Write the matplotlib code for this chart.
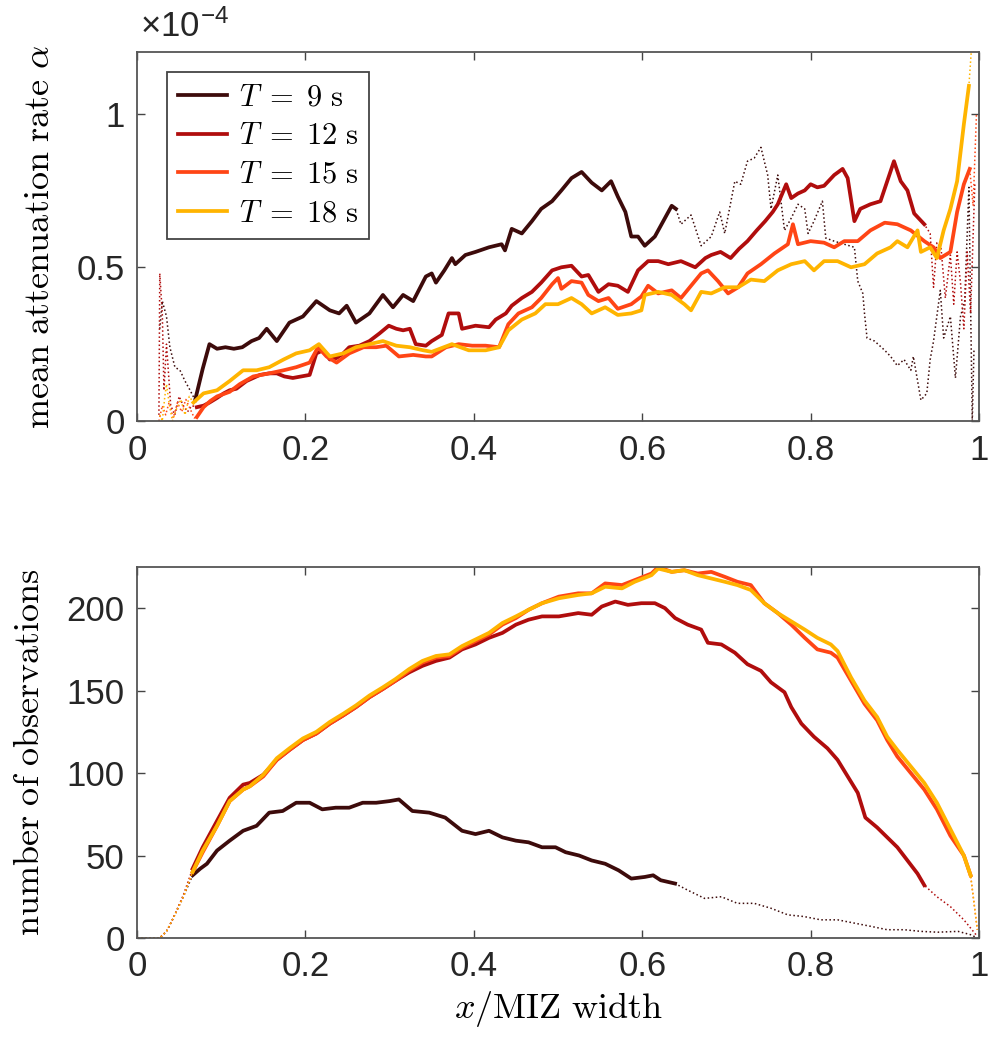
import numpy as np
import matplotlib
matplotlib.use("Agg")
import matplotlib.pyplot as plt

plt.rcParams['mathtext.fontset'] = 'cm'
plt.rcParams['font.family'] = ['Liberation Sans', 'DejaVu Sans']

periods = [9, 12, 15, 18]
colors = ['#3d0b0b', '#b00d0d', '#ff4515', '#ffb400']
xticks = [0, 0.2, 0.4, 0.6, 0.8, 1]
xtick_labels = ['0', '0.2', '0.4', '0.6', '0.8', '1']

# ---- mean attenuation rate (units of 1e-4) ----
x9_top = [0.027, 0.030, 0.035, 0.039, 0.045, 0.051, 0.057, 0.063, 0.069, 0.078,
          0.086, 0.095, 0.105, 0.115, 0.125, 0.136, 0.145, 0.154, 0.166, 0.181,
          0.197, 0.213, 0.229, 0.240, 0.249, 0.260, 0.276, 0.292, 0.304, 0.316,
          0.328, 0.343, 0.350, 0.355, 0.365, 0.374, 0.378, 0.390, 0.402, 0.418,
          0.433, 0.437, 0.445, 0.457, 0.469, 0.480, 0.493, 0.504, 0.516, 0.528,
          0.540, 0.552, 0.563, 0.571, 0.580, 0.587, 0.595, 0.603, 0.615, 0.627,
          0.635, 0.640, 0.646, 0.658, 0.670, 0.682, 0.692, 0.698, 0.710, 0.717,
          0.725, 0.733, 0.741, 0.749, 0.753, 0.761, 0.769, 0.777, 0.785, 0.793,
          0.797, 0.804, 0.814, 0.818, 0.828, 0.840, 0.852, 0.856, 0.862, 0.864,
          0.867, 0.876, 0.888, 0.895, 0.903, 0.911, 0.919, 0.922, 0.931, 0.938,
          0.942, 0.946, 0.954, 0.958, 0.966, 0.972, 0.978, 0.983, 0.988, 0.992,
          0.994]
a9 = [0.30, 0.39, 0.34, 0.24, 0.175, 0.165, 0.13, 0.10, 0.068, 0.17,
      0.25, 0.235, 0.24, 0.235, 0.24, 0.26, 0.27, 0.30, 0.26, 0.32,
      0.34, 0.39, 0.36, 0.35, 0.375, 0.32, 0.35, 0.41, 0.37, 0.41,
      0.39, 0.47, 0.48, 0.45, 0.49, 0.53, 0.51, 0.54, 0.55, 0.565,
      0.575, 0.555, 0.625, 0.61, 0.65, 0.69, 0.715, 0.75, 0.79, 0.81,
      0.775, 0.75, 0.78, 0.73, 0.68, 0.60, 0.60, 0.57, 0.60, 0.66,
      0.70, 0.69, 0.64, 0.67, 0.57, 0.60, 0.68, 0.61, 0.78, 0.77,
      0.845, 0.855, 0.89, 0.80, 0.69, 0.80, 0.62, 0.66, 0.705, 0.69,
      0.61, 0.65, 0.715, 0.595, 0.585, 0.575, 0.565, 0.455, 0.415, 0.35,
      0.27, 0.26, 0.23, 0.21, 0.18, 0.20, 0.165, 0.21, 0.068, 0.09,
      0.20, 0.26, 0.425, 0.27, 0.34, 0.14, 0.34, 0.39, 0.76, 0.0,
      0.23]

x12_top = [0.026, 0.027, 0.030, 0.032, 0.035, 0.040, 0.045, 0.050, 0.055, 0.060,
           0.065, 0.071, 0.079, 0.086, 0.095, 0.103, 0.110, 0.118, 0.130, 0.138,
           0.146, 0.157, 0.166, 0.175, 0.185, 0.195, 0.205, 0.213, 0.221, 0.229,
           0.237, 0.245, 0.252, 0.264, 0.276, 0.288, 0.299, 0.308, 0.316, 0.324,
           0.331, 0.343, 0.350, 0.362, 0.370, 0.382, 0.386, 0.402, 0.418, 0.426,
           0.438, 0.445, 0.457, 0.469, 0.480, 0.493, 0.504, 0.516, 0.528, 0.536,
           0.548, 0.560, 0.571, 0.583, 0.595, 0.607, 0.619, 0.631, 0.646, 0.663,
           0.675, 0.682, 0.693, 0.705, 0.715, 0.725, 0.736, 0.746, 0.755, 0.761,
           0.771, 0.777, 0.785, 0.793, 0.800, 0.808, 0.816, 0.828, 0.838, 0.844,
           0.852, 0.859, 0.871, 0.883, 0.891, 0.899, 0.907, 0.915, 0.923, 0.935,
           0.942, 0.946, 0.950, 0.955, 0.960, 0.966, 0.970, 0.974, 0.978, 0.982,
           0.986, 0.990, 0.995]
a12 = [0.02, 0.48, 0.35, 0.10, 0.25, 0.05, 0.02, 0.08, 0.05, 0.03,
       0.05, 0.045, 0.05, 0.06, 0.075, 0.09, 0.10, 0.105, 0.13, 0.14,
       0.15, 0.155, 0.155, 0.145, 0.14, 0.145, 0.15, 0.22, 0.23, 0.20,
       0.205, 0.22, 0.24, 0.245, 0.26, 0.285, 0.31, 0.30, 0.295, 0.30,
       0.25, 0.245, 0.26, 0.28, 0.35, 0.35, 0.30, 0.31, 0.305, 0.33,
       0.35, 0.375, 0.40, 0.42, 0.45, 0.49, 0.50, 0.505, 0.47, 0.475,
       0.42, 0.445, 0.44, 0.42, 0.49, 0.52, 0.52, 0.51, 0.52, 0.50,
       0.53, 0.54, 0.55, 0.53, 0.56, 0.585, 0.62, 0.65, 0.68, 0.705,
       0.77, 0.725, 0.74, 0.75, 0.77, 0.76, 0.765, 0.80, 0.82, 0.79,
       0.65, 0.69, 0.705, 0.715, 0.78, 0.845, 0.78, 0.75, 0.675, 0.64,
       0.61, 0.435, 0.58, 0.56, 0.40, 0.54, 0.38, 0.55, 0.45, 0.30,
       0.55, 0.35, 0.77]

x15_top = [0.026, 0.030, 0.034, 0.038, 0.043, 0.048, 0.053, 0.058, 0.063, 0.068,
           0.071, 0.079, 0.087, 0.095, 0.110, 0.122, 0.138, 0.157, 0.174, 0.189,
           0.205, 0.215, 0.225, 0.237, 0.252, 0.269, 0.284, 0.296, 0.311, 0.328,
           0.343, 0.350, 0.367, 0.382, 0.398, 0.414, 0.430, 0.441, 0.453, 0.469,
           0.480, 0.493, 0.500, 0.504, 0.516, 0.528, 0.536, 0.548, 0.560, 0.571,
           0.587, 0.599, 0.607, 0.619, 0.635, 0.646, 0.658, 0.670, 0.678, 0.690,
           0.702, 0.714, 0.725, 0.741, 0.757, 0.773, 0.779, 0.785, 0.800, 0.816,
           0.828, 0.840, 0.856, 0.871, 0.888, 0.903, 0.919, 0.935, 0.946, 0.954,
           0.966, 0.974, 0.982, 0.989, 0.993, 0.997]
a15 = [0.0, 0.05, 0.02, 0.06, 0.01, 0.06, 0.03, 0.07, 0.04, 0.01,
       0.013, 0.045, 0.065, 0.08, 0.095, 0.12, 0.145, 0.155, 0.165, 0.175,
       0.19, 0.24, 0.21, 0.19, 0.22, 0.24, 0.24, 0.245, 0.21, 0.215,
       0.21, 0.21, 0.24, 0.25, 0.245, 0.245, 0.24, 0.315, 0.35, 0.37,
       0.40, 0.445, 0.465, 0.43, 0.455, 0.45, 0.41, 0.39, 0.40, 0.365,
       0.38, 0.405, 0.44, 0.415, 0.425, 0.40, 0.44, 0.48, 0.49, 0.455,
       0.415, 0.435, 0.48, 0.51, 0.545, 0.575, 0.64, 0.575, 0.585, 0.58,
       0.565, 0.585, 0.585, 0.62, 0.645, 0.64, 0.62, 0.585, 0.565, 0.53,
       0.55, 0.68, 0.77, 0.82, 0.70, 1.0]

x18_top = [0.027, 0.030, 0.033, 0.035, 0.038, 0.042, 0.047, 0.052, 0.057, 0.062,
           0.067, 0.079, 0.095, 0.110, 0.126, 0.142, 0.157, 0.174, 0.189, 0.205,
           0.216, 0.229, 0.245, 0.260, 0.276, 0.292, 0.308, 0.324, 0.340, 0.350,
           0.374, 0.394, 0.414, 0.430, 0.441, 0.457, 0.473, 0.485, 0.500, 0.516,
           0.528, 0.540, 0.556, 0.571, 0.587, 0.599, 0.603, 0.619, 0.635, 0.650,
           0.658, 0.670, 0.682, 0.698, 0.714, 0.729, 0.745, 0.761, 0.777, 0.793,
           0.804, 0.816, 0.832, 0.848, 0.864, 0.879, 0.895, 0.903, 0.915, 0.927,
           0.931, 0.942, 0.950, 0.958, 0.966, 0.974, 0.982, 0.988, 0.992]
a18 = [0.02, 0.0, 0.08, 0.12, 0.06, 0.0, 0.04, 0.07, 0.02, 0.08,
       0.06, 0.09, 0.10, 0.13, 0.165, 0.165, 0.175, 0.20, 0.22, 0.23,
       0.25, 0.21, 0.22, 0.24, 0.25, 0.26, 0.245, 0.24, 0.23, 0.225,
       0.25, 0.23, 0.23, 0.24, 0.295, 0.33, 0.35, 0.38, 0.38, 0.40,
       0.38, 0.35, 0.37, 0.345, 0.35, 0.36, 0.41, 0.42, 0.41, 0.38,
       0.36, 0.42, 0.415, 0.435, 0.435, 0.46, 0.455, 0.49, 0.51, 0.52,
       0.49, 0.52, 0.52, 0.50, 0.51, 0.545, 0.565, 0.585, 0.565, 0.62,
       0.55, 0.565, 0.53, 0.62, 0.69, 0.78, 0.965, 1.09, 1.25]

# ---- number of observations ----
x9_bot = [0.0, 0.027, 0.035, 0.043, 0.055, 0.066, 0.075, 0.083, 0.095, 0.110,
          0.126, 0.142, 0.157, 0.173, 0.189, 0.205, 0.220, 0.236, 0.252, 0.268,
          0.284, 0.300, 0.311, 0.327, 0.347, 0.366, 0.386, 0.402, 0.418, 0.434,
          0.450, 0.465, 0.481, 0.497, 0.509, 0.525, 0.540, 0.556, 0.572, 0.587,
          0.603, 0.613, 0.622, 0.639, 0.654, 0.674, 0.694, 0.713, 0.733, 0.753,
          0.773, 0.792, 0.812, 0.832, 0.852, 0.872, 0.891, 0.911, 0.931, 0.951,
          0.975, 0.990, 0.998]
n9 = [0, 0, 4, 12, 25, 38, 42, 45, 53, 59,
      65, 68, 76, 77, 82, 82, 78, 79, 79, 82,
      82, 83, 84, 77, 76, 73, 65, 63, 65, 61,
      59, 58, 55, 55, 52, 50, 47, 45, 41, 36,
      37, 38, 35, 33, 29, 24, 25, 21, 21, 18,
      14, 13, 11, 11, 9, 7, 5, 5, 4, 3.5,
      4, 2, 0]

x12_bot = [0.0, 0.027, 0.035, 0.043, 0.055, 0.066, 0.078, 0.095, 0.110, 0.126,
           0.134, 0.150, 0.166, 0.181, 0.197, 0.213, 0.229, 0.245, 0.260, 0.276,
           0.292, 0.307, 0.323, 0.339, 0.355, 0.371, 0.386, 0.402, 0.418, 0.434,
           0.450, 0.465, 0.481, 0.501, 0.524, 0.540, 0.552, 0.568, 0.583, 0.599,
           0.615, 0.627, 0.639, 0.654, 0.670, 0.678, 0.694, 0.710, 0.725, 0.741,
           0.753, 0.769, 0.777, 0.789, 0.804, 0.820, 0.832, 0.844, 0.856, 0.865,
           0.879, 0.891, 0.903, 0.915, 0.927, 0.935, 0.950, 0.966, 0.982, 0.998]
n12 = [0, 0, 4, 12, 26, 42, 55, 71, 85, 93,
       94, 99, 108, 114, 120, 124, 130, 135, 140, 146,
       151, 156, 161, 165, 168, 170, 175, 178, 182, 185,
       190, 193, 195, 195, 197, 196, 201, 204, 202, 203,
       203, 200, 194, 190, 187, 179, 178, 173, 166, 162,
       155, 149, 140, 130, 122, 115, 108, 98, 88, 73,
       67, 61, 55, 47, 39, 32, 25, 19, 11, 1]

x15_bot = [0.0, 0.027, 0.035, 0.043, 0.055, 0.066, 0.078, 0.095, 0.110, 0.126,
           0.134, 0.150, 0.166, 0.181, 0.197, 0.213, 0.229, 0.245, 0.260, 0.276,
           0.292, 0.307, 0.323, 0.339, 0.355, 0.371, 0.386, 0.402, 0.418, 0.434,
           0.450, 0.465, 0.481, 0.501, 0.524, 0.540, 0.556, 0.576, 0.591, 0.611,
           0.619, 0.635, 0.650, 0.666, 0.682, 0.698, 0.713, 0.729, 0.745, 0.761,
           0.777, 0.793, 0.808, 0.824, 0.832, 0.848, 0.864, 0.879, 0.891, 0.903,
           0.919, 0.935, 0.950, 0.966, 0.982, 0.990, 0.998]
n15 = [0, 0, 4, 12, 25, 40, 52, 68, 83, 90,
       92, 98, 108, 114, 120, 124, 130, 135, 140, 146,
       151, 156, 162, 167, 170, 171, 176, 180, 184, 190,
       194, 199, 203, 207, 209, 209, 215, 214, 217, 221,
       225, 222, 223, 221, 222, 219, 216, 214, 203, 197,
       190, 182, 175, 173, 170, 156, 142, 132, 120, 110,
       100, 90, 78, 62, 50, 38, 5]

x18_bot = [0.0, 0.027, 0.035, 0.043, 0.055, 0.066, 0.078, 0.095, 0.110, 0.126,
           0.134, 0.150, 0.166, 0.181, 0.197, 0.213, 0.229, 0.245, 0.260, 0.276,
           0.292, 0.307, 0.323, 0.339, 0.355, 0.371, 0.386, 0.402, 0.418, 0.434,
           0.450, 0.465, 0.481, 0.501, 0.524, 0.540, 0.556, 0.576, 0.591, 0.611,
           0.619, 0.635, 0.650, 0.666, 0.682, 0.698, 0.713, 0.729, 0.745, 0.761,
           0.777, 0.793, 0.808, 0.824, 0.832, 0.848, 0.864, 0.879, 0.891, 0.903,
           0.919, 0.935, 0.950, 0.966, 0.982, 0.990, 0.998]
n18 = [0, 0, 4, 12, 25, 40, 53, 68, 83, 90,
       92, 99, 109, 115, 121, 125, 131, 136, 141, 147,
       152, 157, 163, 168, 171, 172, 177, 181, 185, 191,
       195, 199, 203, 206, 208, 209, 213, 212, 216, 220,
       224, 222, 223, 220, 218, 216, 214, 211, 203, 197,
       192, 187, 182, 178, 174, 158, 144, 134, 122, 114,
       104, 94, 82, 66, 50, 38, 5]

# x-range over which each curve is drawn as a thick solid line
solid_top = [(0.069, 0.640), (0.071, 0.935), (0.071, 0.989), (0.067, 0.988)]
solid_bot = [(0.066, 0.639), (0.066, 0.935), (0.066, 0.990), (0.066, 0.990)]

top_series = [(x9_top, a9), (x12_top, a12), (x15_top, a15), (x18_top, a18)]
bot_series = [(x9_bot, n9), (x12_bot, n12), (x15_bot, n15), (x18_bot, n18)]

TICK_COLOR = '#262626'


def draw_curve(ax, x, y, span, color, label=None):
    x = np.asarray(x)
    y = np.asarray(y)
    ax.plot(x, y, ':', color=color, lw=1.1)
    m = (x >= span[0]) & (x <= span[1])
    ax.plot(x[m], y[m], '-', color=color, lw=2.7, label=label,
            solid_joinstyle='round')


def style_axes(ax):
    ax.set_xlim(0, 1)
    ax.set_xticks(xticks)
    ax.set_xticklabels(xtick_labels)
    ax.tick_params(direction='in', top=True, right=True, length=6, width=1,
                   color='#444444', labelcolor=TICK_COLOR, labelsize=25, pad=9)
    for s in ax.spines.values():
        s.set_color('#555555')
        s.set_linewidth(1.3)


fig = plt.figure(figsize=(9.88, 10.37), dpi=100)
ax1 = fig.add_axes([0.1387, 0.594, 0.8522, 0.3558])
ax2 = fig.add_axes([0.1387, 0.0955, 0.8522, 0.3578])

for (x, y), span, c, T in zip(top_series, solid_top, colors, periods):
    draw_curve(ax1, x, y, span, c, label=r'$T\;=\;%d\ \mathrm{s}$' % T)
for (x, y), span, c in zip(bot_series, solid_bot, colors):
    draw_curve(ax2, x, y, span, c)

style_axes(ax1)
ax1.set_ylim(0, 1.2)
ax1.set_yticks([0, 0.5, 1])
ax1.set_yticklabels(['0', '0.5', '1'])
ax1.set_ylabel(r'$\mathrm{mean\ attenuation\ rate}\ \alpha$', fontsize=26,
               labelpad=14)
ax1.annotate('×10$^{\\mathregular{-4}}$', xy=(0, 1), xycoords='axes fraction',
             xytext=(2, 6), textcoords='offset points', ha='left', va='bottom',
             fontsize=25, color=TICK_COLOR)

leg = ax1.legend(loc='upper left', bbox_to_anchor=(0.0355, 0.946),
                 borderaxespad=0, fontsize=22, frameon=True, fancybox=False,
                 handlelength=1.6, handletextpad=0.4, labelspacing=0.28,
                 borderpad=0.35)
leg.get_frame().set_edgecolor('#444444')
leg.get_frame().set_linewidth(1.3)
leg.get_frame().set_alpha(1)

style_axes(ax2)
ax2.set_ylim(0, 225)
ax2.set_yticks([0, 50, 100, 150, 200])
ax2.set_ylabel(r'$\mathrm{number\ of\ observations}$', fontsize=26, labelpad=14)
ax2.set_xlabel(r'$x/\mathrm{MIZ\ width}$', fontsize=26, labelpad=4)

fig.savefig('out.png', dpi=100)
